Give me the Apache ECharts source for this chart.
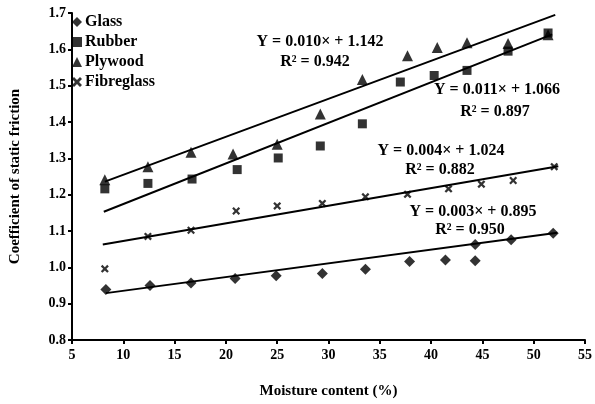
<!DOCTYPE html>
<html>
<head>
<meta charset="utf-8">
<script src="https://cdn.jsdelivr.net/npm/echarts@6/dist/echarts.min.js"></script>
<style>
html, body { margin: 0; padding: 0; background: #fff; }
#main { width: 595px; height: 404px; }
</style>
</head>
<body>
<div id="main"></div>
<script>
// measured points (moisture content %, coefficient of static friction)
var glassX = [8.3, 12.6, 16.6, 20.9, 24.9, 29.4, 33.6, 37.9, 41.4, 44.3, 44.3, 47.8, 51.9];
var glassY = [0.939, 0.950, 0.957, 0.969, 0.977, 0.983, 0.995, 1.016, 1.020, 1.018, 1.063, 1.076, 1.094];

var rubberX = [8.2, 12.4, 16.7, 21.1, 25.1, 29.2, 33.3, 37.0, 40.3, 43.5, 47.5, 51.4];
var rubberY = [1.216, 1.231, 1.243, 1.269, 1.301, 1.334, 1.395, 1.510, 1.528, 1.542, 1.595, 1.645];

var plywoodX = [8.2, 12.4, 16.6, 20.7, 25.0, 29.2, 33.3, 37.7, 40.6, 43.5, 47.5, 51.4];
var plywoodY = [1.241, 1.277, 1.317, 1.312, 1.339, 1.422, 1.517, 1.582, 1.605, 1.618, 1.616, 1.640];

var fibreX = [8.2, 12.4, 16.6, 21.0, 25.0, 29.4, 33.6, 37.7, 41.7, 44.9, 48.0, 52.0];
var fibreY = [0.996, 1.085, 1.102, 1.155, 1.169, 1.176, 1.194, 1.201, 1.216, 1.229, 1.239, 1.277];

// trend lines as drawn (start / end)
var glassFitX = [8.3, 52.3],   glassFitY = [0.929, 1.095];
var rubberFitX = [8.1, 51.8],  rubberFitY = [1.153, 1.641];
var plywoodFitX = [8.2, 52.1], plywoodFitY = [1.236, 1.695];
var fibreFitX = [8.0, 52.4],   fibreFitY = [1.063, 1.278];

var equations = [
	['Y = 0.010× + 1.142', 'R² = 0.942'],
	['Y = 0.011× + 1.066', 'R² = 0.897'],
	['Y = 0.004× + 1.024', 'R² = 0.882'],
	['Y = 0.003× + 0.895', 'R² = 0.950']
];

var FONT = 'Liberation Serif';
var crossPath = 'path://M0,2 L2,0 L5,3 L8,0 L10,2 L7,5 L10,8 L8,10 L5,7 L2,10 L0,8 L3,5 Z';

function pairs(xs, ys) {
	return xs.map(function (x, i) { return [x, ys[i]]; });
}

function scatter(name, xs, ys, symbol, size) {
	return {
		name : name,
		type : 'scatter',
		symbol : symbol,
		symbolSize : size,
		itemStyle : { color : '#000' },
		data : pairs(xs, ys),
		z : 3
	};
}

function fit(xs, ys) {
	return {
		type : 'line',
		showSymbol : false,
		silent : true,
		lineStyle : { color : '#000', width : 2 },
		data : pairs(xs, ys),
		z : 2
	};
}

// equation labels: [centre x, centre y] in pixels
var eqPos = [[320, 42, 315, 62], [497, 90, 495, 112], [441, 151, 440, 170], [473, 212, 470, 230]];
var graphics = [];
equations.forEach(function (eq, i) {
	var p = eqPos[i];
	graphics.push({ type : 'text', x : p[0], y : p[1], style : { text : eq[0], fill : '#000', font : 'bold 16px "' + FONT + '"', align : 'center', verticalAlign : 'middle' }, z : 10 });
	graphics.push({ type : 'text', x : p[2], y : p[3], style : { text : eq[1], fill : '#000', font : 'bold 16px "' + FONT + '"', align : 'center', verticalAlign : 'middle' }, z : 10 });
});

var myChart = echarts.init(document.getElementById('main'));

myChart.setOption({
	animation : false,
	backgroundColor : '#fff',
	grid : { left : 66, right : 10, top : 13, bottom : 57 },
	legend : {
		data : [ 'Glass', 'Rubber', 'Plywood', 'Fibreglass' ],
		orient : 'vertical',
		left : 72,
		top : 14,
		padding : 0,
		itemWidth : 10,
		itemHeight : 10,
		itemGap : 4,
		textStyle : { fontFamily : FONT, fontWeight : 'bold', fontSize : 16, color : '#000', lineHeight : 16, padding : [0, 0, 0, -2] }
	},
	xAxis : {
		type : 'value',
		min : 5,
		max : 55,
		interval : 5,
		name : 'Moisture content (%)',
		nameLocation : 'middle',
		nameGap : 44,
		nameTextStyle : { fontFamily : FONT, fontWeight : 'bold', fontSize : 15, color : '#000' },
		axisLine : { lineStyle : { color : '#000', width : 2 } },
		axisTick : { length : 4, lineStyle : { color : '#000', width : 2 } },
		axisLabel : { fontFamily : FONT, fontWeight : 'bold', fontSize : 14, color : '#000', margin : 8 },
		splitLine : { show : false }
	},
	yAxis : {
		type : 'value',
		min : 0.8,
		max : 1.7,
		interval : 0.1,
		name : 'Coefficient of static friction',
		nameLocation : 'middle',
		nameGap : 49,
		nameTextStyle : { fontFamily : FONT, fontWeight : 'bold', fontSize : 15, color : '#000' },
		axisLine : { show : true, lineStyle : { color : '#000', width : 2 } },
		axisTick : { show : true, length : 4, lineStyle : { color : '#000', width : 2 } },
		axisLabel : {
			fontFamily : FONT, fontWeight : 'bold', fontSize : 14, color : '#000', margin : 6,
			formatter : function (v) { return v.toFixed(1); }
		},
		splitLine : { show : false }
	},
	graphic : graphics,
	series : [
		fit(glassFitX, glassFitY),
		fit(rubberFitX, rubberFitY),
		fit(plywoodFitX, plywoodFitY),
		fit(fibreFitX, fibreFitY),
		scatter('Glass', glassX, glassY, 'diamond', 11),
		scatter('Plywood', plywoodX, plywoodY, 'triangle', 11),
		scatter('Rubber', rubberX, rubberY, 'rect', 9),
		scatter('Fibreglass', fibreX, fibreY, crossPath, 8)
	]
});
</script>
</body>
</html>
